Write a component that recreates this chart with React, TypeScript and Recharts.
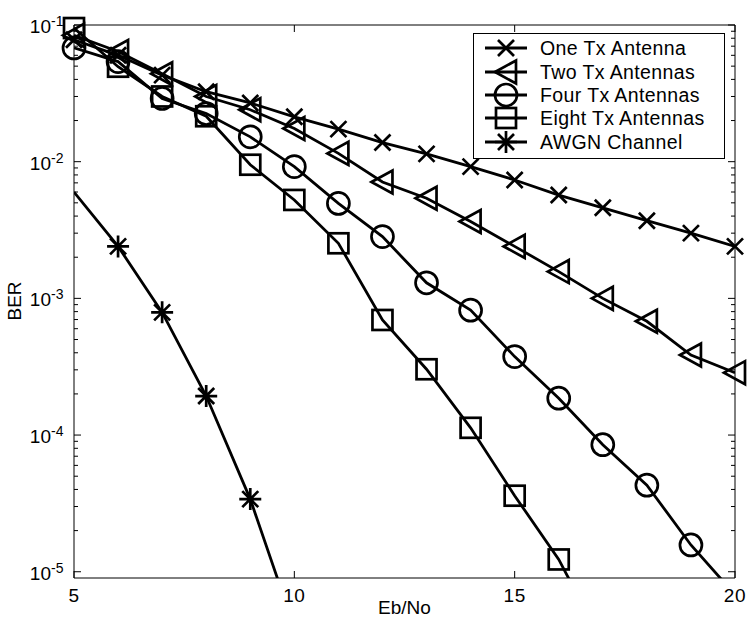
import { LineChart, Line, XAxis, YAxis, Legend } from "recharts";

// Eb/No in dB and BER per curve
const EBNO = [5, 6, 7, 8, 9, 10, 11, 12, 13, 14, 15, 16, 17, 18, 19, 20];
const ONE_TX = [7.8e-2, 6.0e-2, 4.3e-2, 3.25e-2, 2.69e-2, 2.13e-2, 1.73e-2, 1.38e-2, 1.14e-2, 9.2e-3, 7.35e-3, 5.7e-3, 4.6e-3, 3.7e-3, 3.0e-3, 2.4e-3];
const TWO_TX = [8.4e-2, 6.4e-2, 4.4e-2, 3.0e-2, 2.4e-2, 1.75e-2, 1.15e-2, 7.1e-3, 5.4e-3, 3.65e-3, 2.4e-3, 1.57e-3, 1.0e-3, 6.8e-4, 3.85e-4, 2.86e-4];
const FOUR_TX = [6.8e-2, 5.4e-2, 2.9e-2, 2.25e-2, 1.52e-2, 9.2e-3, 4.95e-3, 2.83e-3, 1.3e-3, 8.2e-4, 3.75e-4, 1.86e-4, 8.5e-5, 4.3e-5, 1.57e-5, 6.8e-6];
const EIGHT_TX = [9.5e-2, 4.95e-2, 3.0e-2, 2.15e-2, 9.5e-3, 5.25e-3, 2.53e-3, 6.95e-4, 3.03e-4, 1.13e-4, 3.6e-5, 1.23e-5, 3.0e-6, null, null, null];
const AWGN = [6.0e-3, 2.4e-3, 7.9e-4, 1.93e-4, 3.4e-5, 3.9e-6, null, null, null, null, null, null, null, null, null, null];
// the AWGN curve carries no marker at 5 dB in the figure
const AWGN_MARKED = [false, true, true, true, true, true, false, false, false, false, false, false, false, false, false, false];

const X_TICKS = [5, 10, 15, 20];
const Y_MAJOR = [1e-5, 1e-4, 1e-3, 1e-2, 1e-1];
const X_DOMAIN: [number, number] = [5, 20];
const Y_DOMAIN: [number, number] = [9e-6, 0.1];

type MarkerKind = "x" | "tri" | "circle" | "square" | "star";

const SERIES: { key: string; name: string; marker: MarkerKind }[] = [
  { key: "one", name: "One Tx Antenna", marker: "x" },
  { key: "two", name: "Two Tx Antennas", marker: "tri" },
  { key: "four", name: "Four Tx Antennas", marker: "circle" },
  { key: "eight", name: "Eight Tx Antennas", marker: "square" },
  { key: "awgn", name: "AWGN Channel", marker: "star" },
];

const rows = EBNO.map((x, i) => ({
  x,
  one: ONE_TX[i],
  two: TWO_TX[i],
  four: FOUR_TX[i],
  eight: EIGHT_TX[i],
  awgn: AWGN[i],
  awgnMark: AWGN_MARKED[i] ? AWGN[i] : null,
}));

// log minor ticks 2..9 x 10^k inside the domain
const Y_TICKS = [1e-6, ...Y_MAJOR]
  .flatMap((p) => [1, 2, 3, 4, 5, 6, 7, 8, 9].map((m) => m * p))
  .filter((v) => v > Y_DOMAIN[0] && v <= Y_DOMAIN[1] * 1.0001);

const FONT = '"Liberation Sans", Arial, Helvetica, sans-serif';
const INK = "#000";
const LINE_W = 2.8;

function isMajor(v: number): boolean {
  const l = Math.log10(v);
  return Math.abs(l - Math.round(l)) < 1e-6;
}

function Marker({ kind, cx, cy }: { kind: MarkerKind; cx: number; cy: number }) {
  const common = { fill: "none", stroke: INK, strokeWidth: 2.7 };
  switch (kind) {
    case "x":
      return <path d={`M${cx - 8} ${cy - 8}L${cx + 8} ${cy + 8}M${cx - 8} ${cy + 8}L${cx + 8} ${cy - 8}`} {...common} />;
    case "tri":
      return <path d={`M${cx - 11} ${cy}L${cx + 10} ${cy - 11.5}L${cx + 10} ${cy + 11.5}Z`} {...common} />;
    case "circle":
      return <circle cx={cx} cy={cy} r={11} {...common} />;
    case "square":
      return <rect x={cx - 10} y={cy - 10} width={20} height={20} {...common} />;
    default:
      return (
        <path
          d={`M${cx - 11} ${cy}L${cx + 11} ${cy}M${cx} ${cy - 11}L${cx} ${cy + 11}M${cx - 8} ${cy - 8}L${cx + 8} ${cy + 8}M${cx - 8} ${cy + 8}L${cx + 8} ${cy - 8}`}
          {...common}
        />
      );
  }
}

function makeDot(kind: MarkerKind) {
  return (props: any) => {
    const { cx, cy, index, value } = props;
    if (cx == null || cy == null || value == null || Number.isNaN(cx) || Number.isNaN(cy)) {
      return <g key={`d-${index}`} />;
    }
    return (
      <g key={`d-${index}`}>
        <Marker kind={kind} cx={cx} cy={cy} />
      </g>
    );
  };
}

function inRange(v: number | null | undefined): number | null {
  if (v == null) return null;
  return v >= Y_DOMAIN[0] && v <= Y_DOMAIN[1] ? v : null;
}

function LeftTick(props: any) {
  const { x, y, payload } = props;
  const v = payload.value as number;
  const major = isMajor(v);
  const exp = Math.round(Math.log10(v));
  return (
    <g>
      <line x1={x} x2={x + (major ? 7 : 4)} y1={y} y2={y} stroke={INK} strokeWidth={1} />
      {major ? (
        <g>
          <text x={x - 23} y={y + 8} textAnchor="end" fontSize={19} fontFamily={FONT} fill={INK}>
            10
          </text>
          <text x={x - 23} y={y + 1} textAnchor="start" fontSize={14} fontFamily={FONT} fill={INK}>
            {exp}
          </text>
        </g>
      ) : null}
    </g>
  );
}

function RightTick(props: any) {
  const { x, y, payload } = props;
  const major = isMajor(payload.value as number);
  return <line x1={x} x2={x - (major ? 7 : 4)} y1={y} y2={y} stroke={INK} strokeWidth={1} />;
}

function BottomTick(props: any) {
  const { x, y, payload } = props;
  return (
    <g>
      <line x1={x} x2={x} y1={y} y2={y - 7} stroke={INK} strokeWidth={1} />
      <text x={x} y={y + 24} textAnchor="middle" fontSize={19} letterSpacing={0.6} fontFamily={FONT} fill={INK}>
        {payload.value}
      </text>
    </g>
  );
}

function TopTick(props: any) {
  const { x, y } = props;
  return <line x1={x} x2={x} y1={y} y2={y + 7} stroke={INK} strokeWidth={1} />;
}

function LegendBox() {
  const rowsY = [15, 39, 62, 85, 109];
  return (
    <svg width={252} height={126} style={{ display: "block" }}>
      <rect x={0.5} y={0.5} width={251} height={125} fill="#fff" stroke={INK} strokeWidth={1} />
      {SERIES.map((s, i) => (
        <g key={s.key}>
          <line x1={12} x2={54} y1={rowsY[i]} y2={rowsY[i]} stroke={INK} strokeWidth={LINE_W} />
          <Marker kind={s.marker} cx={33} cy={rowsY[i]} />
          <text x={67} y={rowsY[i] + 7} fontSize={19.5} letterSpacing={0.4} fontFamily={FONT} fill={INK}>
            {s.name}
          </text>
        </g>
      ))}
    </svg>
  );
}

export default function App() {
  return (
    <div style={{ position: "absolute", left: 0, top: 0, width: 747, height: 624, background: "#fff", fontFamily: FONT }}>
      <LineChart width={747} height={624} data={rows} margin={{ top: 0, right: 0, bottom: 0, left: 0 }}>
        <XAxis
          xAxisId="b"
          type="number"
          dataKey="x"
          orientation="bottom"
          domain={X_DOMAIN}
          allowDataOverflow
          ticks={X_TICKS}
          interval={0}
          height={46}
          tickSize={0}
          tickMargin={0}
          tickLine={false}
          axisLine={{ stroke: INK, strokeWidth: 1 }}
          tick={(p: any) => <BottomTick {...p} />}
          label={(p: any) => {
            const vb = p.viewBox ?? { x: 74, y: 578, width: 661 };
            return (
              <text x={vb.x + vb.width / 2} y={614} textAnchor="middle" fontSize={19} fontFamily={FONT} fill={INK}>
                Eb/No
              </text>
            );
          }}
        />
        <XAxis
          xAxisId="t"
          type="number"
          dataKey="x"
          orientation="top"
          domain={X_DOMAIN}
          ticks={X_TICKS}
          interval={0}
          height={25}
          tickSize={0}
          tickMargin={0}
          tickLine={false}
          axisLine={{ stroke: INK, strokeWidth: 1 }}
          tick={(p: any) => <TopTick {...p} />}
        />
        <YAxis
          yAxisId="l"
          type="number"
          scale="log"
          orientation="left"
          domain={Y_DOMAIN}
          allowDataOverflow
          ticks={Y_TICKS}
          interval={0}
          width={74}
          tickSize={0}
          tickMargin={0}
          tickLine={false}
          axisLine={{ stroke: INK, strokeWidth: 1 }}
          tick={(p: any) => <LeftTick {...p} />}
          label={() => (
            <text x={21} y={301} transform="rotate(-90 21 301)" textAnchor="middle" fontSize={19} fontFamily={FONT} fill={INK}>
              BER
            </text>
          )}
        />
        <YAxis
          yAxisId="r"
          type="number"
          scale="log"
          orientation="right"
          domain={Y_DOMAIN}
          ticks={Y_TICKS}
          interval={0}
          width={12}
          tickSize={0}
          tickMargin={0}
          tickLine={false}
          axisLine={{ stroke: INK, strokeWidth: 1 }}
          tick={(p: any) => <RightTick {...p} />}
        />
        {SERIES.map((s) => (
          <Line
            key={`line-${s.key}`}
            xAxisId="b"
            yAxisId="l"
            type="linear"
            dataKey={s.key}
            stroke={INK}
            strokeWidth={LINE_W}
            dot={false}
            activeDot={false}
            legendType="none"
            isAnimationActive={false}
          />
        ))}
        {SERIES.map((s) => (
          <Line
            key={`dots-${s.key}`}
            xAxisId="t"
            yAxisId="r"
            type="linear"
            name={s.name}
            dataKey={(d: any) => inRange(d[s.key === "awgn" ? "awgnMark" : s.key])}
            stroke="none"
            dot={makeDot(s.marker)}
            activeDot={false}
            legendType="none"
            isAnimationActive={false}
          />
        ))}
        <Legend
          layout="horizontal"
          verticalAlign="middle"
          align="center"
          content={() => <LegendBox />}
          wrapperStyle={{ left: 473, top: 33, width: 252, height: 126 }}
        />
      </LineChart>
    </div>
  );
}
